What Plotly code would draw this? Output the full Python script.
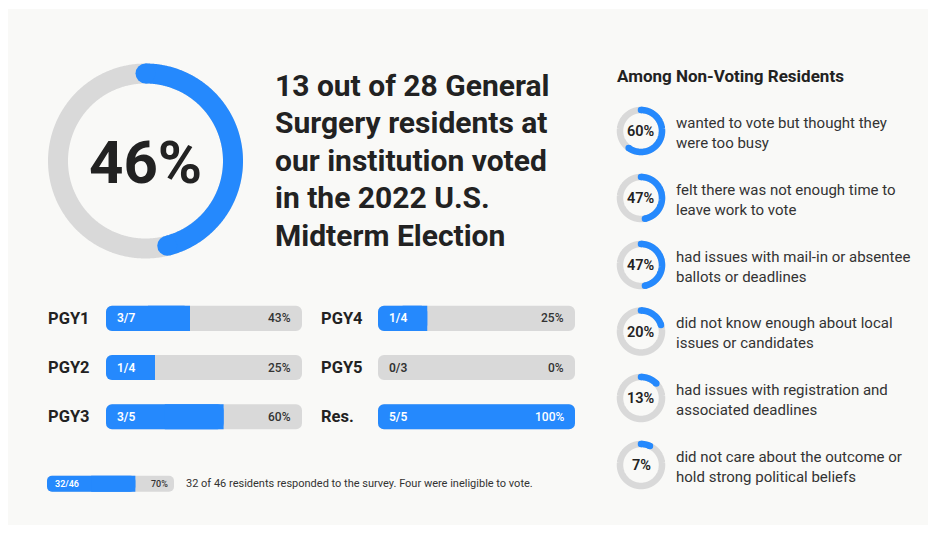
import numpy as np
import plotly.graph_objects as go

W, H = 936, 533
BLUE = "#2589fd"
TRACK = "#d9d9d9"
INK = "#222222"
BODY = "#333333"
PANEL = "#f9f9f7"
FONT = "Roboto"

# ---------------- data ----------------
overall_pct = 46
title_lines = ["13 out of 28 General", "Surgery residents at", "our institution voted",
               "in the 2022 U.S.", "Midterm Election"]

groups_left = ["PGY1", "PGY2", "PGY3"]
voted_left = [3, 1, 3]
total_left = [7, 4, 5]

groups_right = ["PGY4", "PGY5", "Res."]
voted_right = [1, 0, 5]
total_right = [4, 3, 5]

responded = 32
residents = 46
footnote = "32 of 46 residents responded to the survey. Four were ineligible to vote."

reasons_heading = "Among Non-Voting Residents"
reasons_pct = [60, 47, 47, 20, 13, 7]
reasons_text = [
    "wanted to vote but thought they<br>were too busy",
    "felt there was not enough time to<br>leave work to vote",
    "had issues with mail-in or absentee<br>ballots or deadlines",
    "did not know enough about local<br>issues or candidates",
    "had issues with registration and<br>associated deadlines",
    "did not care about the outcome or<br>hold strong political beliefs",
]

# ---------------- layout constants (pixels) ----------------
BIG_C = (145.5, 161.0)
BIG_R, BIG_W = 87.5, 20
SMALL_X = 641.0
SMALL_Y = [131, 198, 265, 331.5, 398, 465]
SMALL_R, SMALL_W = 21.0, 6.5

fig = go.Figure()


def donut(cx, cy, r, width, frac):
    t = np.linspace(0, 2 * np.pi, 721)
    fig.add_trace(go.Scatter(x=cx + r * np.sin(t), y=cy - r * np.cos(t), mode="lines",
                             line=dict(color=TRACK, width=width, simplify=False), hoverinfo="skip",
                             showlegend=False, xaxis="x", yaxis="y"))
    if frac <= 0:
        return
    t = np.linspace(0, 2 * np.pi * frac, max(int(720 * frac), 2) + 1)
    xs, ys = cx + r * np.sin(t), cy - r * np.cos(t)
    fig.add_trace(go.Scatter(x=xs, y=ys, mode="lines",
                             line=dict(color=BLUE, width=width, simplify=False),
                             hoverinfo="skip", showlegend=False, xaxis="x", yaxis="y"))
    fig.add_trace(go.Scatter(x=[xs[0], xs[-1]], y=[ys[0], ys[-1]], mode="markers",
                             marker=dict(color=BLUE, size=width, line=dict(width=0)),
                             hoverinfo="skip", showlegend=False, xaxis="x", yaxis="y"))


donut(BIG_C[0], BIG_C[1], BIG_R, BIG_W, overall_pct / 100)
for yy, p in zip(SMALL_Y, reasons_pct):
    donut(SMALL_X, yy, SMALL_R, SMALL_W, p / 100)

ann = []


def text(x, y, s, size, color=INK, weight=400, xanchor="left", yanchor="middle"):
    shift = {"left": -2, "right": 2, "center": 0}[xanchor]
    ann.append(dict(x=x, y=y, xref="x", yref="y", text=s, showarrow=False,
                    xanchor=xanchor, yanchor=yanchor, align="left", xshift=shift,
                    font=dict(family=FONT, size=size, color=color, weight=weight)))


text(BIG_C[0], BIG_C[1] + 1, f"{overall_pct}%", 60, weight=700, xanchor="center")
for i, line in enumerate(title_lines):
    text(275, 85 + 37.6 * i, line, 30, weight=700)


# ---------------- bars ----------------
def bar_group(voted, total, xa, ya, radius, width):
    rows = list(range(len(voted)))
    n = len(rows)
    frac = [v / t for v, t in zip(voted, total)]
    common = dict(orientation="h", y=rows, width=width, xaxis=xa, yaxis=ya,
                  hoverinfo="skip", showlegend=False)
    # grey track (explicit base -> all corners rounded)
    fig.add_trace(go.Bar(x=[1] * n, base=[0] * n,
                         marker=dict(color=TRACK, cornerradius=radius, line=dict(width=0)), **common))
    # blue value bar (all corners rounded)
    fig.add_trace(go.Bar(x=frac, base=[0] * n,
                         marker=dict(color=BLUE, cornerradius=radius, line=dict(width=0)), **common))
    # square off the right end of partial bars
    fig.add_trace(go.Bar(x=[f / 2 if 0 < f < 1 else 0 for f in frac], base=[f / 2 for f in frac],
                         marker=dict(color=BLUE, cornerradius=0, line=dict(width=0)), **common))
    return frac


ROW_Y = [318.2, 367.5, 416.5]
frac_l = bar_group(voted_left, total_left, "x2", "y2", 6, 0.51)
frac_r = bar_group(voted_right, total_right, "x3", "y3", 6, 0.51)
frac_t = bar_group([responded], [residents], "x4", "y4", 5, 0.5)

for (labels, voted, total, frac, lx, bx0, bx1) in [
        (groups_left, voted_left, total_left, frac_l, 48, 106, 302),
        (groups_right, voted_right, total_right, frac_r, 321, 378, 575)]:
    for i, lab in enumerate(labels):
        y = ROW_Y[i]
        text(lx, y, lab, 16.5, weight=700)
        text(bx0 + 11, y, f"{voted[i]}/{total[i]}", 12,
             color="white" if frac[i] > 0 else BODY, weight=600)
        text(bx1 - 11, y, f"{round(frac[i] * 100)}%", 12,
             color="white" if frac[i] >= 0.85 else BODY, weight=500, xanchor="right")

text(55, 483.7, f"{responded}/{residents}", 9, color="white", weight=600)
text(168, 483.7, f"{round(frac_t[0] * 100)}%", 9, color=BODY, weight=500, xanchor="right")
text(186, 483.7, footnote, 11, color=BODY)

# ---------------- reasons ----------------
text(617, 76, reasons_heading, 17, weight=700)
for yy, p, s in zip(SMALL_Y, reasons_pct, reasons_text):
    text(SMALL_X, yy + 0.5, f"{p}%", 14.5, weight=600, xanchor="center")
    text(676, yy + 1.5, s, 15, color=BODY)

fig.update_layout(
    width=W, height=H, margin=dict(l=0, r=0, t=0, b=0, pad=0),
    paper_bgcolor="white", plot_bgcolor="rgba(0,0,0,0)",
    barmode="overlay", showlegend=False, annotations=ann,
    shapes=[dict(type="rect", xref="paper", yref="paper", x0=8 / W, x1=928 / W,
                 y0=1 - 525 / H, y1=1 - 9 / H, fillcolor=PANEL, line=dict(width=0), layer="below")],
    xaxis=dict(range=[0, W], domain=[0, 1], visible=False, fixedrange=True, anchor="y"),
    yaxis=dict(range=[H, 0], domain=[0, 1], visible=False, fixedrange=True, anchor="x"),
    xaxis2=dict(range=[0, 1], domain=[106 / W, 302 / W], visible=False, anchor="y2", fixedrange=True),
    yaxis2=dict(range=[2.5, -0.5], domain=[1 - 441.3 / H, 1 - 293.8 / H], visible=False, anchor="x2", fixedrange=True),
    xaxis3=dict(range=[0, 1], domain=[378 / W, 575 / W], visible=False, anchor="y3", fixedrange=True),
    yaxis3=dict(range=[2.5, -0.5], domain=[1 - 441.3 / H, 1 - 293.8 / H], visible=False, anchor="x3", fixedrange=True),
    xaxis4=dict(range=[0, 1], domain=[47 / W, 174 / W], visible=False, anchor="y4", fixedrange=True),
    yaxis4=dict(range=[0.5, -0.5], domain=[1 - 499.7 / H, 1 - 467.7 / H], visible=False, anchor="x4", fixedrange=True),
)

fig.write_html("out.html", config=dict(displayModeBar=False))
